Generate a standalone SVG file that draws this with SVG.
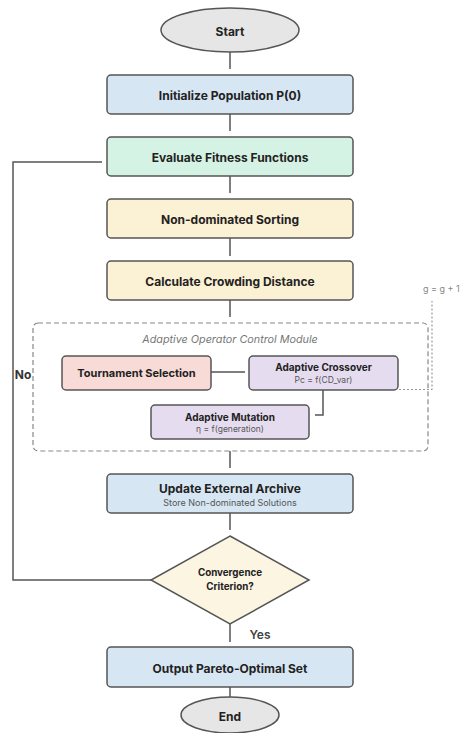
<svg xmlns="http://www.w3.org/2000/svg" width="465" height="733" viewBox="0 0 465 733">
<style>
.bx{stroke:#555;stroke-width:1.5}
.ln{stroke:#555;stroke-width:1.5;fill:none}
.t{font-family:Inter,"Noto Sans","Liberation Sans",sans-serif;font-weight:700;font-size:12px;fill:#222;text-anchor:middle;dominant-baseline:central}
.s{font-family:Inter,"Noto Sans","Liberation Sans",sans-serif;font-size:9px;fill:#555;text-anchor:middle;dominant-baseline:central}
.blue{fill:#d6e6f3}
.green{fill:#d5f3e4}
.yel{fill:#fbf1d4}
.pink{fill:#f8dbd7}
.lav{fill:#e6dcef}
.grey{fill:#e6e6e6}
</style>
<g id="connectors">
<line class="ln" x1="230" y1="52" x2="230" y2="69"/>
<line class="ln" x1="230" y1="114" x2="230" y2="131"/>
<line class="ln" x1="230" y1="176" x2="230" y2="193"/>
<line class="ln" x1="230" y1="238" x2="230" y2="256"/>
<line class="ln" x1="230" y1="300" x2="230" y2="317"/>
<line class="ln" x1="211" y1="372" x2="245" y2="372"/>
<polyline class="ln" points="323,390 323,415 315,415"/>
<polyline points="399,389.5 432,389.5 432,301" fill="none" stroke="#999" stroke-width="1.2" stroke-dasharray="2,2"/>
<line class="ln" x1="230" y1="451" x2="230" y2="468"/>
<line class="ln" x1="230" y1="513" x2="230" y2="530"/>
<polyline class="ln" points="151,580 13,580 13,162 102,162"/>
<line class="ln" x1="230" y1="624" x2="230" y2="642"/>
<line class="ln" x1="230" y1="687" x2="230" y2="697"/>
<text x="260" y="634" class="t" style="font-weight:600;fill:#444">Yes</text>
<text x="23" y="374" class="t" style="fill:#333">No</text>
<text x="423" y="288" class="s" style="text-anchor:start;fill:#888">g = g + 1</text>
</g>
<g id="start"><ellipse class="bx grey" cx="230" cy="30" rx="69" ry="22"/><text class="t" x="230" y="31">Start</text></g>
<g id="init"><rect class="bx blue" x="107" y="75" width="246" height="39" rx="4"/><text class="t" x="230" y="95">Initialize Population P(0)</text></g>
<g id="evaluate"><rect class="bx green" x="107" y="137" width="246" height="39" rx="4"/><text class="t" x="230" y="157">Evaluate Fitness Functions</text></g>
<g id="sorting"><rect class="bx yel" x="107" y="199" width="246" height="39" rx="4"/><text class="t" x="230" y="219">Non-dominated Sorting</text></g>
<g id="crowding"><rect class="bx yel" x="107" y="261" width="246" height="39" rx="4"/><text class="t" x="230" y="281">Calculate Crowding Distance</text></g>
<g id="module"><rect x="33" y="323" width="395" height="128" rx="5" fill="none" stroke="#888" stroke-width="1.2" stroke-dasharray="5,3"/><text class="s" x="230" y="339" style="font-style:italic;font-size:10.8px;fill:#777">Adaptive Operator Control Module</text></g>
<g id="tournament"><rect class="bx pink" x="62" y="356" width="149" height="34" rx="4"/><text class="t" x="136.5" y="373" style="font-size:11px">Tournament Selection</text></g>
<g id="crossover"><rect class="bx lav" x="249" y="356" width="149" height="34" rx="4"/><text class="t" x="323.5" y="367" style="font-size:10px">Adaptive Crossover</text><text class="s" x="323.5" y="380" style="font-size:8.5px">Pc = f(CD_var)</text></g>
<g id="mutation"><rect class="bx lav" x="151" y="405" width="158" height="34" rx="4"/><text class="t" x="230" y="417" style="font-size:10px">Adaptive Mutation</text><text class="s" x="230" y="429" style="font-size:8.5px">η = f(generation)</text></g>
<g id="archive"><rect class="bx blue" x="107" y="474" width="246" height="39" rx="4"/><text class="t" x="230" y="488">Update External Archive</text><text class="s" x="230" y="502">Store Non-dominated Solutions</text></g>
<g id="convergence"><polygon class="bx" fill="#fbf5e1" points="230,536 309,580 230,624 151,580"/><text class="t" x="230" y="572" style="font-size:9.8px">Convergence</text><text class="t" x="230" y="586" style="font-size:9.8px">Criterion?</text></g>
<g id="output"><rect class="bx blue" x="107" y="647" width="246" height="40" rx="4"/><text class="t" x="230" y="668">Output Pareto-Optimal Set</text></g>
<g id="end"><ellipse class="bx grey" cx="230" cy="715" rx="49" ry="18"/><text class="t" x="230" y="716">End</text></g>
</svg>
